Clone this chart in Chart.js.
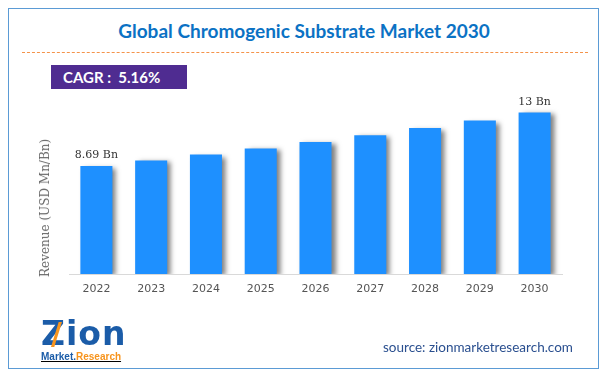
<!DOCTYPE html>
<html>
<head>
<meta charset="utf-8">
<script src="https://cdn.jsdelivr.net/npm/chart.js@4.4.1/dist/chart.umd.min.js"></script>
<style>
  html, body { margin:0; padding:0; background:#fff; }
  #wrap { position:relative; width:608px; height:380px; overflow:hidden; background:#fff; }
  #frame { position:absolute; left:8px; top:8px; width:591px; height:361px; border:1px solid #5b9bd5; box-sizing:border-box; }
  #title { position:absolute; left:0; width:608px; top:19px; text-align:center; font:700 19px Lato, sans-serif; color:#0b72c4; }
  #dash { position:absolute; left:22px; width:566px; top:52px; border-top:1.5px dashed #f4934a; }
  #cagr { position:absolute; left:51px; top:65px; width:136px; height:24px; background:#4f2c91; color:#fff; font:700 15px Lato, sans-serif; line-height:24px; box-sizing:border-box; padding-left:12px; white-space:pre; }
  #ytitle { position:absolute; left:45px; top:208px; transform:translate(-50%,-50%) rotate(-90deg); white-space:nowrap; font:400 12px "DejaVu Serif", serif; color:#666; }
  #source { position:absolute; left:383px; top:339px; font:13.5px Lato, sans-serif; color:#2a4f8f; }
  #logo { position:absolute; left:41px; top:318px; width:90px; }
  #logo .zion { position:relative; font:700 33px "DejaVu Sans", sans-serif; color:#1b5ca8; letter-spacing:1px; line-height:32px; height:32px; }
  #logo .slash { position:absolute; left:10px; top:-2px; font:700 30px "DejaVu Sans", sans-serif; color:#f7941d; }
  #logo .mr { font:700 10px "Liberation Sans", sans-serif; line-height:11px; text-decoration:underline; margin-top:1px; }
  #chart { position:absolute; left:0; top:0; }
</style>
</head>
<body>
<div id="wrap">
  <div id="frame"></div>
  <div id="title">Global Chromogenic Substrate Market 2030</div>
  <div id="dash"></div>
  <div id="cagr">CAGR :  5.16%</div>
  <canvas id="chart" width="608" height="380"></canvas>
  <div id="ytitle">Revenue (USD Mn/Bn)</div>
  <div id="logo">
    <div class="zion">Zion<span class="slash">/</span></div>
    <div class="mr"><span style="color:#1b5ca8">Market.</span><span style="color:#f7941d">Research</span></div>
  </div>
  <div id="source">source: zionmarketresearch.com</div>
</div>
<script>
const years = ['2022','2023','2024','2025','2026','2027','2028','2029','2030'];
const revenue = [8.69, 9.14, 9.61, 10.10, 10.62, 11.17, 11.75, 12.35, 13.0];
const valueLabels = ['8.69 Bn', '', '', '', '', '', '', '', '13 Bn'];

const shadowPlugin = {
  id: 'barShadow',
  beforeDatasetsDraw(chart) {
    const ctx = chart.ctx;
    ctx.save();
    ctx.shadowColor = 'rgba(0,0,0,0.5)';
    ctx.shadowBlur = 5;
    ctx.shadowOffsetX = 4;
    ctx.shadowOffsetY = 2;
  },
  afterDatasetsDraw(chart) {
    const ctx = chart.ctx;
    ctx.restore();
    const meta = chart.getDatasetMeta(0);
    ctx.save();
    ctx.font = '11px "DejaVu Serif", serif';
    ctx.fillStyle = '#333';
    ctx.textAlign = 'center';
    ctx.textBaseline = 'bottom';
    meta.data.forEach((bar, i) => {
      if (valueLabels[i]) ctx.fillText(valueLabels[i], bar.x, bar.y - 5);
    });
    ctx.restore();
  }
};

new Chart(document.getElementById('chart'), {
  type: 'bar',
  data: {
    labels: years,
    datasets: [{
      data: revenue,
      backgroundColor: '#1e90ff',
      borderWidth: 0,
      barPercentage: 0.585,
      categoryPercentage: 1.0
    }]
  },
  options: {
    responsive: false,
    animation: false,
    layout: { padding: { left: 69, right: 46, top: 100, bottom: 76 } },
    plugins: { legend: { display: false }, tooltip: { enabled: false }, title: { display: false } },
    scales: {
      x: {
        grid: { display: false, drawTicks: false },
        border: { display: true, color: '#d9d9d9', width: 1 },
        ticks: { color: '#555', font: { family: '"DejaVu Sans", sans-serif', size: 11 }, padding: 9, maxRotation: 0 },
        afterFit(scale) { scale.height = 30; }
      },
      y: {
        display: false,
        min: 0,
        max: 14
      }
    }
  },
  plugins: [shadowPlugin]
});
</script>
</body>
</html>
